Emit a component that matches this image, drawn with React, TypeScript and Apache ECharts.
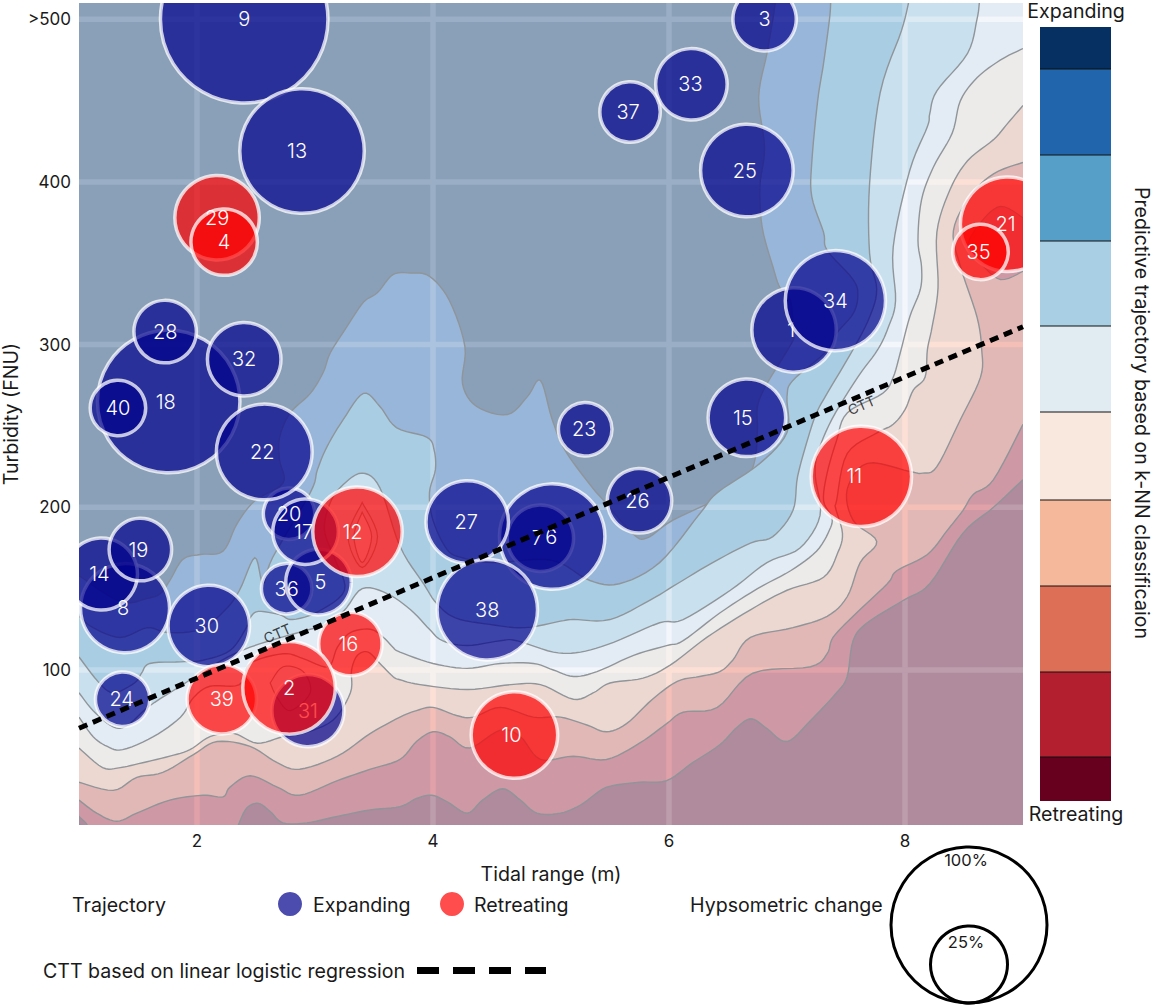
import React, { useEffect, useRef } from 'react';
import * as echarts from 'echarts';

const FONT = 'Inter';
const X_MIN = 1;
const X_MAX = 9;
const Y_MIN = 4.7;
const Y_MAX = 510;

const xTicks = [2, 4, 6, 8];
const yTicks = [100, 200, 300, 400, 500];

// one row per estuary: id, tidal range (m), turbidity (FNU), hypsometric change (%)
const bubbleIds = [1, 2, 3, 4, 5, 6, 7, 8, 9, 10, 11, 12, 13, 14, 15, 16, 17, 18, 19, 20, 21, 22, 23, 24, 25, 26, 27, 28, 29, 30, 31, 32, 33, 34, 35, 36, 37, 38, 39, 40];
const tidalRange = [7.06, 2.78, 6.81, 2.23, 3.03, 5.01, 4.91, 1.39, 2.4, 4.69, 7.63, 3.36, 2.89, 1.19, 6.66, 3.3, 2.92, 1.76, 1.52, 2.78, 8.87, 2.57, 5.29, 1.37, 6.66, 5.75, 4.29, 1.73, 2.17, 2.1, 2.94, 2.4, 6.19, 7.41, 8.64, 2.76, 5.67, 4.46, 2.21, 1.33];
const turbidity = [309, 89, 500, 363, 154, 182, 181, 138, 500, 60, 219, 185, 419, 159, 255, 116, 185, 265, 174, 196, 374, 234, 248, 82, 407, 204, 191, 308, 378, 127, 75, 291, 460, 327, 357, 150, 443, 137, 82, 261];
const hypsometric = [31.8, 37.9, 18.4, 20.1, 19.6, 48.8, 20.1, 35.2, 120.2, 33.3, 44.4, 35.5, 67.3, 23.5, 27, 18.4, 19.6, 87.6, 17.9, 12.4, 39.5, 40.5, 13.4, 13.8, 37.9, 19, 30.4, 17.9, 31.8, 29.7, 23.5, 24.4, 23.1, 44.2, 14.3, 12, 16.8, 44.4, 21.9, 14.3];
const retreatingIds = [2, 4, 10, 11, 12, 16, 21, 29, 35, 39];
// painting order of the bubbles
const drawOrder = [1, 3, 7, 6, 8, 9, 13, 14, 15, 36, 5, 18, 19, 20, 17, 22, 23, 24, 25, 26, 27, 28, 30, 31, 32, 33, 34, 37, 38, 40, 10, 11, 16, 21, 29, 4, 35, 39, 2, 12];
// these labels sit under a later bubble and get tinted by it, the others stay on top
const coveredLabels = [1, 17, 31];

// critical turbidity threshold line
const cttLine = [[1, 64.2], [9, 311]];
const cttLabels = [[2.68, 122.7], [7.63, 262.9]];

// contour lines of the k-NN surface
const contour1 = [[1, 158], [1.35, 142], [1.58, 144], [1.69, 147], [1.77, 155], [1.88, 168], [2.03, 171], [2.22, 173], [2.34, 190], [2.49, 204], [2.73, 215], [2.7, 229], [2.7, 243], [2.79, 258], [2.96, 270], [3.07, 283], [3.13, 295], [3.27, 311], [3.41, 326], [3.53, 332], [3.66, 343], [3.81, 344], [3.97, 342], [4.14, 327], [4.27, 299], [4.25, 276], [4.37, 262], [4.63, 257], [4.8, 268], [4.91, 278], [5.01, 254], [5.12, 235], [5.33, 214], [5.46, 203], [5.69, 184], [5.81, 181], [6.03, 192], [6.43, 206], [6.66, 219], [6.73, 230], [6.75, 248], [6.75, 262], [6.83, 276], [7.04, 301], [7.05, 307], [7.03, 327], [6.94, 335], [6.88, 348], [6.79, 372], [6.77, 397], [6.81, 421], [6.76, 452], [6.83, 479], [6.88, 500], [6.9, 510]];
const contour2 = [[1, 133], [1.12, 126], [1.35, 120], [1.58, 126], [1.75, 123], [2.03, 125], [2.24, 137], [2.36, 149], [2.49, 169], [2.56, 153], [2.64, 169], [2.96, 209], [3.02, 223], [3.1, 237], [3.24, 254], [3.41, 270], [3.55, 262], [3.69, 249], [3.95, 243], [4.01, 235], [4.02, 223], [3.97, 209], [4, 192], [4.12, 174], [4.25, 169], [4.51, 166], [4.91, 168], [5.1, 165], [5.33, 155], [5.58, 153], [5.92, 166], [6.26, 196], [6.41, 209], [6.77, 227], [7, 246], [7, 268], [7.05, 278], [7.32, 295], [7.42, 307], [7.56, 319], [7.6, 330], [7.56, 340], [7.34, 358], [7.31, 369], [7.21, 391], [7.21, 412], [7.26, 450], [7.31, 473], [7.36, 500], [7.37, 510]];
const contour3 = [[1, 108], [1.16, 93], [1.29, 86], [1.47, 92], [1.53, 98], [1.6, 104], [1.86, 105], [2.05, 106], [2.28, 112], [2.41, 125], [2.45, 132], [2.52, 136], [2.7, 134], [2.81, 131], [3.03, 136], [3.25, 149], [3.17, 168], [3.08, 186], [3.13, 203], [3.24, 214], [3.4, 221], [3.55, 212], [3.72, 176], [3.92, 153], [4.03, 141], [4.19, 132], [4.48, 128], [4.78, 126], [5.08, 130], [5.19, 131], [5.5, 131], [5.84, 143], [6.07, 153], [6.37, 166], [6.69, 178], [6.88, 182], [7.05, 198], [7.09, 219], [7.18, 243], [7.25, 258], [7.34, 270], [7.56, 297], [7.7, 317], [7.76, 334], [7.7, 356], [7.7, 399], [7.79, 455], [7.97, 493], [8.03, 510]];
const contour4 = [[1, 86], [1.12, 75], [1.29, 65], [1.41, 66], [1.6, 78], [1.88, 91], [2.11, 102], [2.45, 114], [2.96, 125], [3.04, 126], [3.24, 136], [3.4, 150], [3.61, 147], [3.81, 137], [3.97, 125], [4.08, 118], [4.29, 115], [4.57, 118], [4.71, 118], [5.02, 111], [5.25, 111], [5.53, 117], [5.92, 129], [6.12, 131], [6.52, 149], [6.83, 166], [7.11, 175], [7.28, 195], [7.24, 219], [7.26, 233], [7.38, 254], [7.6, 280], [7.77, 297], [7.86, 311], [7.92, 327], [7.9, 360], [8.04, 407], [8.19, 434], [8.21, 442], [8.27, 456], [8.53, 479], [8.61, 500], [8.63, 510]];
const contour5 = [[1, 71], [1.12, 59], [1.24, 53], [1.37, 51], [1.63, 59], [1.86, 71], [1.97, 83], [2.11, 90], [2.36, 91], [2.45, 104], [2.73, 110], [2.9, 107], [3.11, 102], [3.19, 114], [3.3, 123], [3.47, 125], [3.58, 120], [3.66, 114], [3.72, 111], [4, 104], [4.29, 101], [4.57, 104], [4.85, 104], [5.02, 100], [5.19, 96], [5.39, 99], [5.7, 109], [5.98, 115], [6.12, 118], [6.43, 135], [6.75, 150], [7.03, 161], [7.25, 173], [7.36, 186], [7.38, 194], [7.31, 204], [7.34, 221], [7.42, 241], [7.51, 258], [7.81, 270], [7.9, 280], [7.96, 295], [8.04, 317], [8.13, 334], [8.14, 348], [8.11, 364], [8.14, 389], [8.24, 409], [8.4, 430], [8.47, 450], [8.61, 464], [8.81, 475], [9, 482]];
const contour6 = [[1, 52], [1.2, 40], [1.35, 40], [1.54, 43], [1.77, 47], [1.94, 51], [2.11, 59], [2.31, 61], [2.51, 55], [2.73, 59], [2.9, 61], [3.15, 69], [3.3, 86], [3.31, 100], [3.36, 109], [3.45, 111], [3.55, 104], [3.66, 96], [3.72, 94], [3.89, 91], [4.29, 88], [4.66, 91], [4.91, 91], [5.19, 82], [5.36, 86], [5.5, 92], [5.78, 95], [6.01, 103], [6.32, 120], [6.69, 137], [7, 149], [7.31, 157], [7.43, 172], [7.47, 184], [7.41, 200], [7.42, 204], [7.51, 233], [7.77, 246], [7.9, 251], [8, 260], [8.07, 272], [8.17, 280], [8.19, 297], [8.23, 311], [8.28, 335], [8.27, 369], [8.38, 395], [8.53, 413], [8.75, 426], [8.87, 436], [9, 447]];
const contour7 = [[1, 31], [1.29, 26], [1.49, 34], [1.71, 37], [1.97, 48], [2.17, 56], [2.45, 53], [2.68, 43], [2.87, 39], [3.19, 47], [3.47, 61], [3.72, 71], [3.86, 75], [4, 77], [4.2, 72], [4.34, 71], [4.57, 77], [4.85, 71], [5.08, 71], [5.31, 66], [5.47, 62], [5.64, 67], [5.86, 82], [6.07, 93], [6.26, 96], [6.43, 99], [6.54, 106], [6.69, 120], [7.05, 126], [7.34, 133], [7.51, 145], [7.62, 166], [7.76, 179], [7.56, 192], [7.51, 211], [7.68, 227], [8.04, 222], [8.15, 221], [8.27, 225], [8.47, 254], [8.64, 280], [8.65, 297], [8.61, 317], [8.47, 348], [8.41, 370], [8.55, 391], [8.75, 405], [9, 412]];
const contour8 = [[1, 20], [1.15, 12], [1.32, 7], [1.49, 12], [1.77, 20], [2.05, 23], [2.22, 22], [2.28, 28], [2.45, 35], [2.68, 28], [2.87, 23], [3.19, 32], [3.47, 39], [3.72, 45], [3.86, 56], [4, 62], [4.14, 59], [4.31, 52], [4.57, 63], [4.74, 59], [4.91, 45], [5.19, 47], [5.47, 45], [5.75, 55], [5.98, 67], [6.12, 74], [6.41, 77], [6.71, 98], [7.2, 102], [7.34, 110], [7.39, 120], [7.56, 133], [7.85, 153], [7.93, 161], [8.19, 171], [8.36, 186], [8.49, 198], [8.58, 208], [8.75, 217], [9, 251]];
const contour9 = [[2.35, 4.7], [2.42, 15], [2.52, 18], [2.62, 13], [2.73, 6], [2.93, 6], [3.19, 10], [3.47, 14], [3.72, 16], [3.86, 21], [3.99, 23], [4.12, 19], [4.29, 12], [4.42, 20], [4.59, 27], [4.74, 20], [4.88, 12], [5.08, 12], [5.25, 17], [5.42, 26], [5.53, 29], [5.75, 31], [5.98, 32], [6.2, 43], [6.43, 54], [6.58, 65], [6.7, 70], [6.83, 64], [7, 56], [7.2, 69], [7.42, 86], [7.51, 96], [7.56, 118], [7.68, 129], [7.99, 143], [8.21, 153], [8.49, 184], [8.75, 200], [9, 217]];

// closed rings of the same surface
const ringNearRiver12 = [[3.4, 203], [3.53, 182], [3.4, 163], [3.28, 182], [3.4, 203]];
const ringInner12 = [[3.4, 197], [3.48, 182], [3.4, 166], [3.33, 182], [3.4, 197]];
const ringNearRiver2 = [[2.62, 92], [2.73, 102], [2.9, 99], [2.96, 86], [2.79, 75], [2.68, 83], [2.62, 92]];
const ringRight = [[9, 378], [8.81, 385], [8.64, 375], [8.53, 360], [8.64, 350], [8.81, 340], [9, 345]];
const cornerBottomLeft = [[1, 10], [1.07, 4.7], [1, 4.7]];

const bandColours = ['#8aa0b9', '#97b6d9', '#a9cde3', '#c9e0ee', '#e3ebf5', '#edeaea', '#ecd8d1', '#e1b8b5', '#cf98a5', '#b08b9d'];
// the white grid shows through each band differently
const gridColours = ['#9aaec5', '#abc3df', '#bcd8ea', '#dceaf4', '#f3f6fa', '#f7f1ee', '#fde0d5', '#f3bfb6', '#e0a2a8', '#bd9dac'];
const contours = [contour1, contour2, contour3, contour4, contour5, contour6, contour7, contour8, contour9];
const rings = [ringNearRiver12, ringInner12, ringNearRiver2, ringRight, cornerBottomLeft];
const ringColours = ['#c9e0ee', '#e3ebf5', '#e3ebf5', '#cf98a5', '#b08b9d'];

const colorbarColours = ['#053061', '#2166ac', '#569fc9', '#a8cfe4', '#e0ebf2', '#f9e8dd', '#f6b89a', '#dd6f57', '#b31f2e', '#67001f'];
const colorbarEdges = [27, 69, 155, 241, 326, 412, 500, 586, 672, 757, 801];

const EXPANDING = 'rgba(0,0,139,0.7)';
const RETREATING = 'rgba(255,0,0,0.7)';
const TEXT = '#1a1a1a';

// px nudges of the bubble labels, the labels are not quite centred in the figure
const LABEL_SHIFT: Record<number, number> = {
    1: -3, 5: 2, 6: -1, 7: -3, 8: -2, 10: -3, 11: -7, 12: -5, 13: -5, 14: -2, 15: -4, 16: -2, 17: -2, 18: -3, 19: -2,
    21: -2, 22: -2, 23: -1, 24: -1, 25: -2, 26: -2, 27: -1, 30: -2, 33: -1, 35: -2, 37: -2,
};

// px diameter of a bubble for a hypsometric change in %
const bubbleSize = (v: number) => 15.6 * Math.sqrt(v);

// Catmull-Rom through the read points, so fill and stroke share the same curve
const spline = (pts: number[][]) => {
    const out: number[][] = [];
    for (let i = 0; i < pts.length - 1; i++) {
        const p0 = pts[Math.max(i - 1, 0)];
        const p1 = pts[i];
        const p2 = pts[i + 1];
        const p3 = pts[Math.min(i + 2, pts.length - 1)];
        for (let s = 0; s < 6; s++) {
            const t = s / 6;
            const f = (a: number, b: number, c: number, d: number) =>
                0.5 * (2 * b + (c - a) * t + (2 * a - 5 * b + 4 * c - d) * t * t + (3 * b - a - 3 * c + d) * t * t * t);
            out.push([f(p0[0], p1[0], p2[0], p3[0]), f(p0[1], p1[1], p2[1], p3[1])]);
        }
    }
    out.push(pts[pts.length - 1]);
    return out;
};

const contourStyle = { stroke: '#8f9599', lineWidth: 1.4, fill: 'none' };

const legendText = (text: string, x: number, y: number, extra = {}) => ({
    type: 'text',
    x,
    y,
    style: { text, fontFamily: FONT, fontSize: 19.6, fill: TEXT, align: 'left', verticalAlign: 'middle', ...extra },
});

const bubbleLabel = (id: number, cx: number, cy: number) => ({
    type: 'text',
    style: {
        x: cx + (LABEL_SHIFT[id] || 0),
        y: cy,
        text: String(id),
        fill: '#fff',
        fontFamily: FONT,
        fontSize: 20,
        fontWeight: 350,
        align: 'center',
        verticalAlign: 'middle',
    },
});

const buildGraphic = () => {
    const bar: any[] = colorbarColours.map((c, i) => ({
        type: 'rect',
        shape: { x: 1040, y: colorbarEdges[i], width: 71, height: colorbarEdges[i + 1] - colorbarEdges[i] },
        style: { fill: c },
    }));
    colorbarEdges.slice(1, -1).forEach((y) => {
        bar.push({ type: 'line', shape: { x1: 1040, y1: y, x2: 1111, y2: y }, style: { stroke: '#111', lineWidth: 1 } });
    });
    return [
        ...bar,
        legendText('Expanding', 1076, 11, { align: 'center' }),
        legendText('Retreating', 1076, 814, { align: 'center' }),
        { ...legendText('Predictive trajectory based on k-NN classificaion', 1142, 413, { align: 'center' }), rotation: -Math.PI / 2 },
        legendText('Trajectory', 72, 905),
        { type: 'circle', shape: { cx: 290, cy: 904, r: 12 }, style: { fill: EXPANDING } },
        legendText('Expanding', 313, 905),
        { type: 'circle', shape: { cx: 452, cy: 904, r: 12 }, style: { fill: RETREATING } },
        legendText('Retreating', 474, 905),
        legendText('Hypsometric change', 690, 905),
        legendText('CTT based on linear logistic regression', 43, 971),
        { type: 'line', shape: { x1: 417, y1: 970.5, x2: 546, y2: 970.5 }, style: { stroke: '#000', lineWidth: 7, lineDash: [22, 14] } },
        { type: 'circle', shape: { cx: 969, cy: 925, r: 78 }, style: { fill: 'none', stroke: '#000', lineWidth: 3 } },
        { type: 'circle', shape: { cx: 969, cy: 964.5, r: 38.5 }, style: { fill: 'none', stroke: '#000', lineWidth: 3 } },
        legendText('100%', 966, 860, { align: 'center', fontSize: 16.5 }),
        legendText('25%', 966, 942, { align: 'center', fontSize: 16.5 }),
    ];
};

export default function App() {
    const chartRef = useRef<HTMLDivElement>(null);

    useEffect(() => {
        const myChart = echarts.init(chartRef.current, null, { renderer: 'svg' });

        const bubbles = drawOrder.map((id) => {
            const i = bubbleIds.indexOf(id);
            return [tidalRange[i], turbidity[i], hypsometric[i], id];
        });

        myChart.setOption({
            animation: false,
            textStyle: { fontFamily: FONT },
            grid: {
                left: 79,
                top: 3,
                width: 944,
                height: 822,
                outerBoundsMode: 'none',
                show: false,
            },
            xAxis: {
                type: 'value',
                min: X_MIN,
                max: X_MAX,
                name: 'Tidal range (m)',
                nameLocation: 'middle',
                nameGap: 39,
                nameMoveOverlap: false,
                nameTextStyle: { fontSize: 19.6, color: TEXT },
                axisLine: { show: false },
                axisTick: { show: false, customValues: xTicks },
                axisLabel: { customValues: xTicks, fontSize: 17, color: TEXT, margin: 7 },
                splitLine: { show: false },
            },
            yAxis: {
                type: 'value',
                min: Y_MIN,
                max: Y_MAX,
                name: 'Turbidity (FNU)',
                nameLocation: 'middle',
                nameGap: 58,
                nameMoveOverlap: false,
                nameTextStyle: { fontSize: 19.6, color: TEXT },
                axisLine: { show: false },
                axisTick: { show: false, customValues: yTicks },
                axisLabel: {
                    customValues: yTicks,
                    fontSize: 17,
                    color: TEXT,
                    margin: 8,
                    formatter: (v: number) => (v === 500 ? '>500' : String(v)),
                },
                splitLine: { show: false },
            },
            graphic: buildGraphic(),
            series: [
                {
                    // filled bands: every layer covers everything below its contour,
                    // the grid is repeated in each layer clipped to that layer
                    type: 'custom',
                    z: 2,
                    clip: true,
                    silent: true,
                    data: bandColours.map((_, i) => i),
                    renderItem: (params: any, api: any) => {
                        const k = params.dataIndex;
                        const tr = api.coord([X_MAX, Y_MAX]);
                        const br = api.coord([X_MAX, Y_MIN]);
                        const bl = api.coord([X_MIN, Y_MIN]);
                        const tl = api.coord([X_MIN, Y_MAX]);
                        const line = k === 0 ? [tl] : spline(contours[k - 1].map((p) => api.coord(p)));
                        const points = [...line, tr, br, bl];
                        const gridLines = [
                            ...xTicks.map((v) => {
                                const x = api.coord([v, Y_MIN])[0];
                                return { x1: x, y1: tl[1], x2: x, y2: bl[1] };
                            }),
                            ...yTicks.map((v) => {
                                const y = api.coord([X_MIN, v])[1];
                                return { x1: tl[0], y1: y, x2: tr[0], y2: y };
                            }),
                        ];
                        const children: any[] = [
                            { type: 'polygon', shape: { points }, style: { fill: bandColours[k] } },
                            {
                                type: 'group',
                                clipPath: { type: 'polygon', shape: { points } },
                                children: gridLines.map((shape) => ({
                                    type: 'line',
                                    shape,
                                    style: { stroke: gridColours[k], lineWidth: 5.5 },
                                })),
                            },
                        ];
                        if (k > 0) {
                            children.push({ type: 'polyline', shape: { points: line }, style: contourStyle });
                        }
                        return { type: 'group', children };
                    },
                },
                {
                    type: 'custom',
                    z: 2,
                    clip: true,
                    silent: true,
                    data: rings.map((_, i) => i),
                    renderItem: (params: any, api: any) => {
                        const k = params.dataIndex;
                        const line = spline(rings[k].map((p) => api.coord(p)));
                        return {
                            type: 'polygon',
                            shape: { points: line },
                            style: { fill: ringColours[k], stroke: '#8f9599', lineWidth: 1.2 },
                        };
                    },
                },
                {
                    // bubbles, with the few labels that later bubbles paint over
                    type: 'custom',
                    z: 4,
                    clip: true,
                    silent: true,
                    data: bubbles,
                    renderItem: (params: any, api: any) => {
                        const [cx, cy] = api.coord([api.value(0), api.value(1)]);
                        const id = api.value(3);
                        const r = bubbleSize(api.value(2)) / 2 - 1.75;
                        const children: any[] = [
                            {
                                type: 'circle',
                                shape: { cx, cy, r },
                                style: {
                                    fill: retreatingIds.includes(id) ? RETREATING : EXPANDING,
                                    stroke: 'rgba(255,255,255,0.75)',
                                    lineWidth: 3.5,
                                },
                            },
                        ];
                        if (coveredLabels.includes(id)) {
                            children.push(bubbleLabel(id, cx, cy));
                        }
                        return { type: 'group', children };
                    },
                },
                {
                    // all other labels, above every bubble
                    type: 'custom',
                    z: 4.5,
                    clip: true,
                    silent: true,
                    data: bubbles.filter((b) => !coveredLabels.includes(b[3])),
                    renderItem: (params: any, api: any) => {
                        const [cx, cy] = api.coord([api.value(0), api.value(1)]);
                        return bubbleLabel(api.value(3), cx, cy);
                    },
                },
                {
                    type: 'line',
                    z: 5,
                    silent: true,
                    symbol: 'none',
                    data: cttLine,
                    lineStyle: { color: '#000', width: 5, type: [9, 6] },
                },
                {
                    type: 'scatter',
                    z: 5,
                    silent: true,
                    symbolSize: 0,
                    data: cttLabels,
                    label: {
                        show: true,
                        position: 'inside',
                        formatter: 'CTT',
                        rotate: 23,
                        fontSize: 14,
                        fontFamily: FONT,
                        color: '#111',
                    },
                },
            ],
        });

        return () => {
            myChart.dispose();
        };
    }, []);

    return <div ref={chartRef} style={{ position: 'absolute', left: 0, top: 0, width: 1153, height: 1005 }} />;
}
